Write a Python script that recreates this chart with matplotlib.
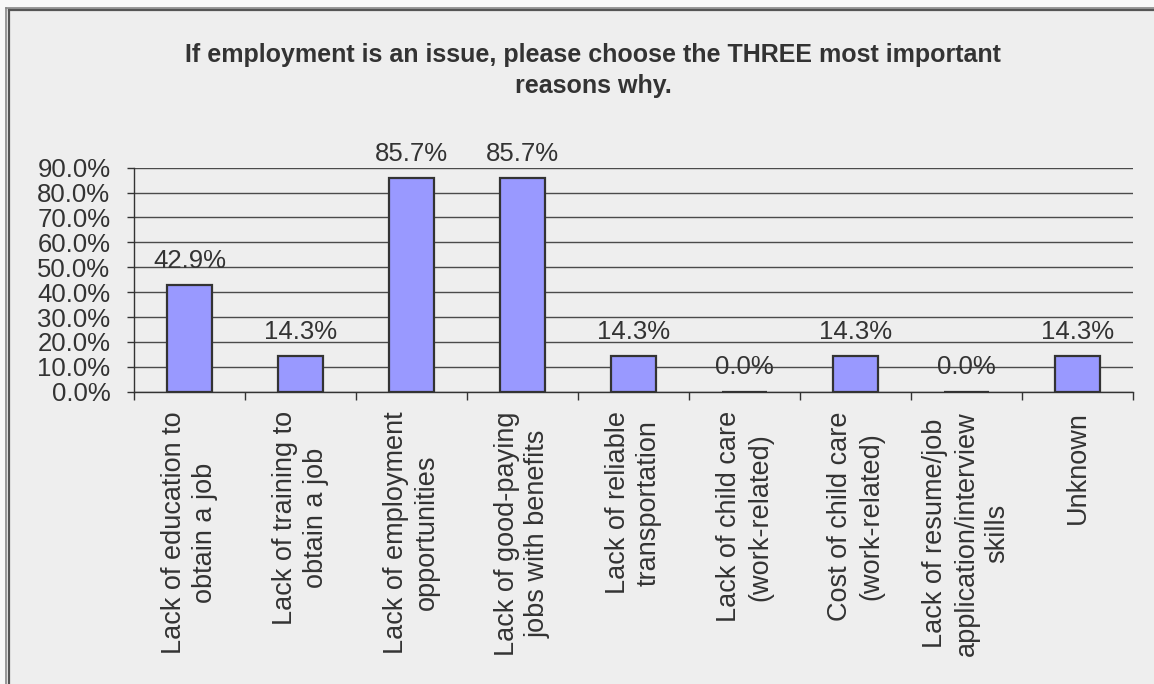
import matplotlib
matplotlib.use("Agg")
import matplotlib.pyplot as plt
from matplotlib.patches import Rectangle
from matplotlib.lines import Line2D
import numpy as np

categories = [
    "Lack of education to\nobtain a job",
    "Lack of training to\nobtain a job",
    "Lack of employment\nopportunities",
    "Lack of good-paying\njobs with benefits",
    "Lack of reliable\ntransportation",
    "Lack of child care\n(work-related)",
    "Cost of child care\n(work-related)",
    "Lack of resume/job\napplication/interview\nskills",
    "Unknown",
]
values = [42.9, 14.3, 85.7, 85.7, 14.3, 0.0, 14.3, 0.0, 14.3]
y_ticks = [0, 10, 20, 30, 40, 50, 60, 70, 80, 90]
title_lines = ["If employment is an issue, please choose the THREE most important",
               "reasons why."]

W, H = 1154, 684
BG = "#EEEEEE"
TXT = "#333333"
FS = 18.5
plt.rcParams["font.family"] = ["Liberation Sans", "DejaVu Sans"]

fig = plt.figure(figsize=(W / 100, H / 100), dpi=100, facecolor="#F8F8F8")

def fx(px):
    return px / W

def fy(py):
    return 1 - py / H

# chart panel and its double frame
fig.patches.append(Rectangle((fx(5), 0), 1, fy(7.5), transform=fig.transFigure,
                             facecolor=BG, edgecolor="none", zorder=-10))
for (x0, y0, x1, y1, c, lw) in [
    (5.5, 684, 5.5, 7.8, "#888888", 1.2),
    (5.5, 7.8, 1154, 7.8, "#888888", 1.2),
    (9.2, 684, 9.2, 10.2, "#555555", 1.6),
    (9.2, 10.2, 1154, 10.2, "#555555", 1.6),
]:
    fig.add_artist(Line2D([fx(x0), fx(x1)], [fy(y0), fy(y1)], transform=fig.transFigure,
                          color=c, lw=lw, zorder=-5))

left, right, top, bottom = 134, 1133, 167.7, 391.7
ax = fig.add_axes([fx(left), fy(bottom), fx(right - left), (bottom - top) / H])
ax.set_zorder(5)
ax.patch.set_alpha(0)

x = np.arange(len(values))
ax.bar(x, values, width=0.41, color="#9999FF", edgecolor="#333333", linewidth=1.6, zorder=3)

for xi, v in zip(x, values):
    ax.annotate(f"{v:.1f}%", (xi, v), xytext=(0, 12.5), textcoords="offset points",
                ha="center", va="baseline", fontsize=FS, color=TXT, zorder=4)

ax.set_xlim(-0.5, len(values) - 0.5)
ax.set_ylim(0, 90)
ax.set_yticks(y_ticks)
ax.set_yticklabels([f"{t:.1f}%" for t in y_ticks], fontsize=FS, color=TXT)
ax.yaxis.grid(True, color="#4a4a4a", linewidth=1.0, zorder=1)
ax.set_axisbelow(True)

ax.set_xticks(np.arange(len(values) + 1) - 0.5)
ax.set_xticklabels([])
ax.set_xticks(x, minor=True)
ax.set_xticklabels(categories, minor=True, rotation=90, fontsize=19.5, color=TXT,
                   ha="center", va="top", multialignment="center", linespacing=1.25)
ax.tick_params(axis="x", which="minor", length=0, pad=14)
ax.tick_params(axis="x", which="major", length=5.5, width=1, color="#333333", direction="out")
ax.tick_params(axis="y", length=5, width=1, color="#333333", direction="out", pad=12)

for s in ["top", "right"]:
    ax.spines[s].set_visible(False)
for s in ["left", "bottom"]:
    ax.spines[s].set_color("#333333")
    ax.spines[s].set_linewidth(1.0)

for line, base in zip(title_lines, [62, 93]):
    fig.text(fx(593), fy(base), line, ha="center", va="baseline", fontsize=18,
             fontweight="bold", color=TXT)

fig.savefig("out.png", dpi=100, facecolor=fig.get_facecolor())
